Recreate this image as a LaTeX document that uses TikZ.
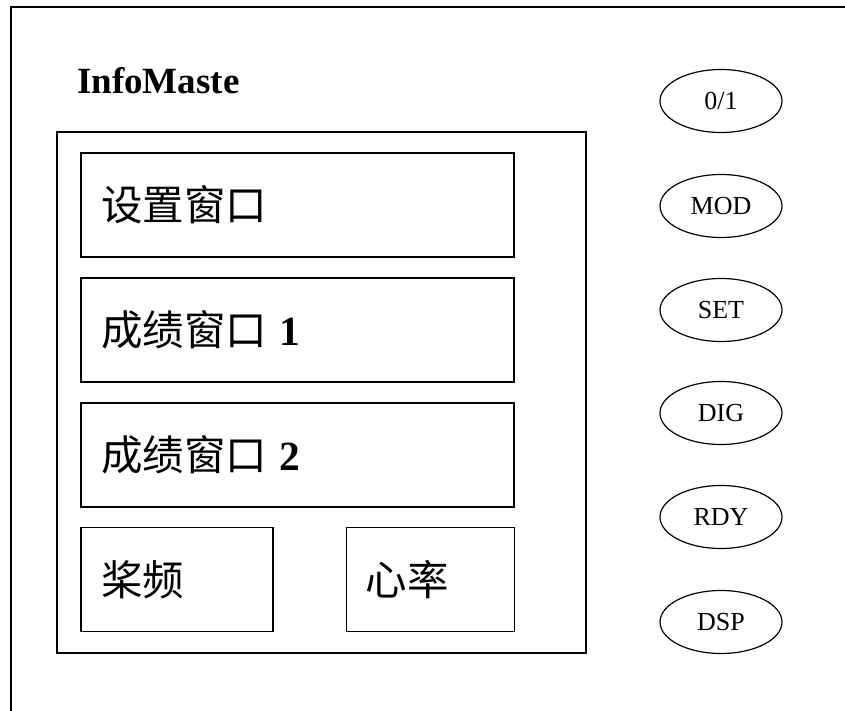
\documentclass[tikz,border=0pt]{standalone}
\usepackage{fontspec}
\setmainfont{Liberation Serif}
\newfontfamily\cjk{Noto Sans CJK SC}
\usetikzlibrary{shapes.geometric}

\begin{document}
\begin{tikzpicture}[%
      x=1pt, y=-1pt,
      winbox/.style={draw, line width=1.6pt, inner sep=0pt},
      wintext/.style={anchor=west, inner sep=0pt, font=\fontsize{41.5}{41.5}\selectfont},
      keyoval/.style={draw, ellipse, line width=1.2pt, inner sep=0pt,
                      minimum width=122pt, minimum height=63pt,
                      font=\fontsize{26}{26}\selectfont},
      ]
      \useasboundingbox (0,0) rectangle (845,711);
      \clip (0,0) rectangle (845,711);

      % outer frame (cut off at right and bottom)
      \draw [line width=1.6pt] (11,730) -- (11,7) -- (870,7);

      \node [anchor=base west, inner sep=0pt,
             font=\fontsize{37}{37}\selectfont\bfseries] (title) at (77,94) {InfoMaste};

      % screen and its windows
      \node [winbox, minimum width=529pt, minimum height=521pt] (screen) at (321.5,392.5) {};
      \node [winbox, minimum width=433pt, minimum height=104pt] (setwin) at (297.5,205) {};
      \node [winbox, minimum width=433pt, minimum height=104pt] (scorea) at (297.5,330) {};
      \node [winbox, minimum width=433pt, minimum height=104pt] (scoreb) at (297.5,455) {};
      \node [winbox, minimum width=192pt, minimum height=104pt] (strokewin) at (177,579.5) {};
      \node [winbox, minimum width=168pt, minimum height=104pt] (heartwin) at (430.5,579.5) {};

      \node [wintext] (setlabel) at ([xshift=21pt]setwin.west) {\cjk 设置窗口};
      \node [wintext] (scorealabel) at ([xshift=21pt]scorea.west) {{\cjk 成绩窗口}\hspace{12pt}{\bfseries 1}};
      \node [wintext] (scoreblabel) at ([xshift=21pt]scoreb.west) {{\cjk 成绩窗口}\hspace{12pt}{\bfseries 2}};
      \node [wintext] (strokelabel) at ([xshift=21pt]strokewin.west) {\cjk 桨频};
      \node [wintext] (heartlabel) at ([xshift=20pt]heartwin.west) {\cjk 心率};

      % keys
      \node [keyoval] (keyonoff) at (721,101) {0/1};
      \node [keyoval] (keymod) at (721,206) {MOD};
      \node [keyoval] (keyset) at (721,310) {SET};
      \node [keyoval] (keydig) at (721,413) {DIG};
      \node [keyoval] (keyrdy) at (721,517) {RDY};
      \node [keyoval] (keydsp) at (721,622) {DSP};
      \end{tikzpicture}
\end{document}
